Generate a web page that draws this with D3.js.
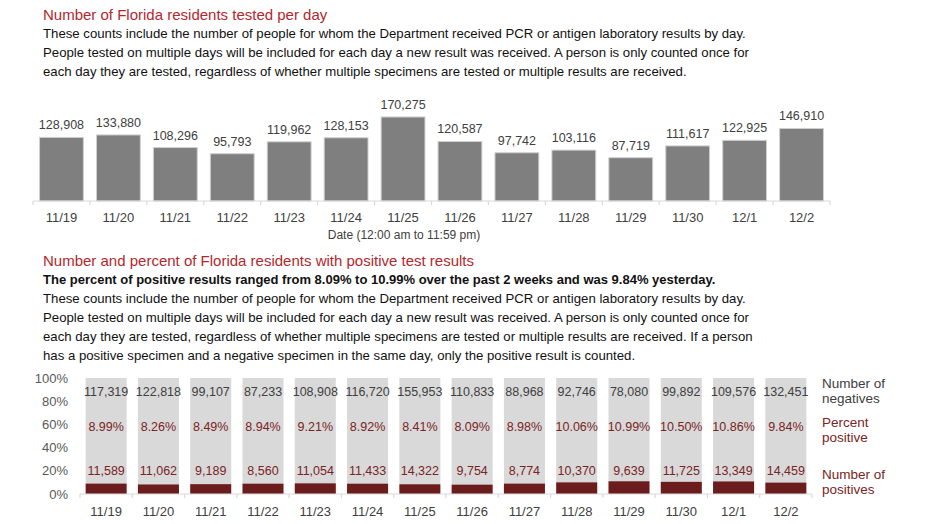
<!DOCTYPE html>
<html>
<head>
<meta charset="utf-8">
<script src="https://cdn.jsdelivr.net/npm/d3@7"></script>
<style>
  body { margin: 0; background: #fff; }
  svg { display: block; font-family: "Liberation Sans", Arial, sans-serif; }
</style>
</head>
<body>
<svg id="chart" width="932" height="524"></svg>
<script>
// datos
const dates = ["11/19", "11/20", "11/21", "11/22", "11/23", "11/24", "11/25", "11/26", "11/27", "11/28", "11/29", "11/30", "12/1", "12/2"];
const tested = [128908, 133880, 108296, 95793, 119962, 128153, 170275, 120587, 97742, 103116, 87719, 111617, 122925, 146910];
const negatives = [117319, 122818, 99107, 87233, 108908, 116720, 155953, 110833, 88968, 92746, 78080, 99892, 109576, 132451];
const positives = [11589, 11062, 9189, 8560, 11054, 11433, 14322, 9754, 8774, 10370, 9639, 11725, 13349, 14459];
const percentPositive = [8.99, 8.26, 8.49, 8.94, 9.21, 8.92, 8.41, 8.09, 8.98, 10.06, 10.99, 10.50, 10.86, 9.84];
const percentTicks = [0, 20, 40, 60, 80, 100];

const title1 = "Number of Florida residents tested per day";
const body1 = [
    "These counts include the number of people for whom the Department received PCR or antigen laboratory results by day.",
    "People tested on multiple days will be included for each day a new result was received. A person is only counted once for",
    "each day they are tested, regardless of whether multiple specimens are tested or multiple results are received."
];
const title2 = "Number and percent of Florida residents with positive test results";
const bold2 = "The percent of positive results ranged from 8.09% to 10.99% over the past 2 weeks and was 9.84% yesterday.";
const body2 = [
    "These counts include the number of people for whom the Department received PCR or antigen laboratory results by day.",
    "People tested on multiple days will be included for each day a new result was received. A person is only counted once for",
    "each day they are tested, regardless of whether multiple specimens are tested or multiple results are received. If a person",
    "has a positive specimen and a negative specimen in the same day, only the positive result is counted."
];

const fmt = d3.format(",");
const red = "#b2282d";
const darkRed = "#6b1c1c";
const textRed = "#7a2424";
const svg = d3.select("#chart");

// Textos de cabecera
function header(title, y) {
    svg.append("text").attr("x", 43).attr("y", y)
        .attr("font-size", 15).attr("fill", red).text(title);
}
function lines(arr, y0, bold) {
    arr.forEach((t, i) => {
        svg.append("text").attr("x", 43).attr("y", y0 + i * 19)
            .attr("font-size", bold ? 13 : 13.2)
            .attr("font-weight", bold ? "bold" : "normal")
            .attr("fill", "#111").text(t);
    });
}
header(title1, 19.5);
lines(body1, 38, false);
header(title2, 266);
lines([bold2], 284, true);
lines(body2, 303, false);

// ---- Gráfico 1: personas examinadas por día ----
const x1 = d3.scaleBand().domain(dates).range([33, 830]).paddingInner(0.23).paddingOuter(0.115);
const y1 = d3.scaleLinear().domain([0, 200000]).range([201, 102.3]);

svg.append("g").selectAll("rect")
    .data(tested)
    .join("rect")
    .attr("x", (d, i) => x1(dates[i]))
    .attr("y", d => y1(d))
    .attr("width", x1.bandwidth())
    .attr("height", d => y1(0) - y1(d))
    .attr("fill", "#7f7f7f")
    .attr("stroke", "#d0d0d0")
    .attr("stroke-width", 1);

svg.append("g").selectAll("text")
    .data(tested)
    .join("text")
    .attr("x", (d, i) => x1(dates[i]) + x1.bandwidth() / 2)
    .attr("y", d => y1(d) - 8)
    .attr("text-anchor", "middle")
    .attr("font-size", 12.5)
    .attr("fill", "#404040")
    .text(d => fmt(d));

// eje de categorías con marcas entre barras
function bandAxis(x, y0, labelOffset) {
    const g = svg.append("g");
    g.append("line").attr("x1", x.range()[0]).attr("x2", x.range()[1])
        .attr("y1", y0).attr("y2", y0).attr("stroke", "#d9d9d9").attr("stroke-width", 1.2);
    const bounds = dates.map(d => x(d) + x.bandwidth() / 2 - x.step() / 2).concat([x.range()[1]]);
    g.selectAll("line.tick").data(bounds).join("line").attr("class", "tick")
        .attr("x1", d => d).attr("x2", d => d)
        .attr("y1", y0).attr("y2", y0 + 4)
        .attr("stroke", "#d9d9d9").attr("stroke-width", 1.2);
    g.selectAll("text").data(dates).join("text")
        .attr("x", d => x(d) + x.bandwidth() / 2)
        .attr("y", y0 + labelOffset)
        .attr("text-anchor", "middle")
        .attr("font-size", 13)
        .attr("fill", "#404040")
        .text(d => d);
}
bandAxis(x1, 201, 21);

svg.append("text").attr("x", 404).attr("y", 239)
    .attr("text-anchor", "middle").attr("font-size", 12)
    .attr("fill", "#404040").text("Date (12:00 am to 11:59 pm)");

// ---- Gráfico 2: positivos y negativos (100% apilado) ----
const x2 = d3.scaleBand().domain(dates).range([80, 812]).paddingInner(0.215).paddingOuter(0.1075);
const y2 = d3.scaleLinear().domain([0, 100]).range([494, 378]);

const g2 = svg.append("g");
g2.selectAll("rect.neg")
    .data(percentPositive)
    .join("rect").attr("class", "neg")
    .attr("x", (d, i) => x2(dates[i]))
    .attr("y", y2(100))
    .attr("width", x2.bandwidth())
    .attr("height", d => y2(d) - y2(100))
    .attr("fill", "#d9d9d9");
g2.selectAll("rect.pos")
    .data(percentPositive)
    .join("rect").attr("class", "pos")
    .attr("x", (d, i) => x2(dates[i]))
    .attr("y", d => y2(d))
    .attr("width", x2.bandwidth())
    .attr("height", d => y2(0) - y2(d))
    .attr("fill", darkRed);

// etiquetas dentro de las barras
function rowLabels(values, level, color, f) {
    g2.append("g").selectAll("text")
        .data(values)
        .join("text")
        .attr("x", (d, i) => x2(dates[i]) + x2.bandwidth() / 2)
        .attr("y", y2(level))
        .attr("dy", "0.35em")
        .attr("text-anchor", "middle")
        .attr("font-size", 12.5)
        .attr("fill", color)
        .text(f);
}
rowLabels(negatives, 88, "#404040", d => fmt(d));
rowLabels(percentPositive, 57.7, textRed, d => d.toFixed(2) + "%");
rowLabels(positives, 20, textRed, d => fmt(d));

const yAxis = svg.append("g").attr("transform", "translate(68,0)")
    .call(d3.axisLeft(y2).tickValues(percentTicks).tickSize(0).tickPadding(0).tickFormat(d => d + "%"));
yAxis.select(".domain").remove();
yAxis.selectAll("text").attr("font-size", 13).attr("fill", "#595959")
    .attr("font-family", "Liberation Sans, Arial, sans-serif");

bandAxis(x2, 494, 22);

// leyenda a la derecha
const legend = [
    { lines: ["Number of", "negatives"], y: 383, color: "#404040" },
    { lines: ["Percent", "positive"], y: 422, color: textRed },
    { lines: ["Number of", "positives"], y: 474, color: textRed }
];
legend.forEach(l => {
    l.lines.forEach((t, i) => {
        svg.append("text").attr("x", 822).attr("y", l.y + i * 15.5)
            .attr("dy", "0.35em").attr("font-size", 13.5)
            .attr("fill", l.color).text(t);
    });
});
</script>
</body>
</html>
